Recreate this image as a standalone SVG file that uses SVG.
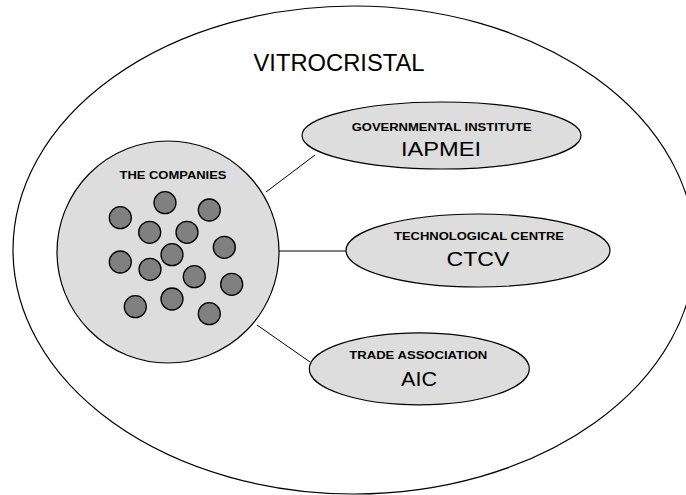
<svg xmlns="http://www.w3.org/2000/svg" width="686" height="495" viewBox="0 0 686 495">
<style>
.bg{fill:#ffffff;stroke:#000;stroke-width:1.2}
.node{fill:#dddddd;stroke:#000;stroke-width:1.2}
.co{fill:#808080;stroke:#000;stroke-width:1.3}
.con{stroke:#000;stroke-width:1;fill:none}
.sm{font-family:"Liberation Sans",Arial,sans-serif;font-weight:bold;font-size:11px;fill:#000;text-anchor:middle}
.lg{font-family:"Liberation Sans",Arial,sans-serif;font-size:21px;fill:#000;text-anchor:middle}
.title{font-family:"Liberation Sans",Arial,sans-serif;font-size:23.5px;fill:#000;text-anchor:middle}
</style>
<rect x="0" y="0" width="686" height="495" fill="#ffffff"/>
<g id="vitrocristal">
<ellipse class="bg" cx="354" cy="250" rx="341" ry="244"/>
<text class="title" x="339" y="71" textLength="171" lengthAdjust="spacingAndGlyphs">VITROCRISTAL</text>
</g>
<g id="connectors">
<line class="con" x1="266" y1="192" x2="315" y2="155"/>
<line class="con" x1="279" y1="251" x2="346" y2="251"/>
<line class="con" x1="257" y1="325" x2="310" y2="362"/>
</g>
<g id="companies">
<circle class="node" cx="168" cy="252" r="111"/>
<text class="sm" x="173" y="179" textLength="107" lengthAdjust="spacingAndGlyphs">THE COMPANIES</text>
<circle class="co" cx="120.3" cy="217.7" r="11"/>
<circle class="co" cx="165" cy="202.7" r="11"/>
<circle class="co" cx="209.3" cy="210" r="11"/>
<circle class="co" cx="149.7" cy="232.3" r="11"/>
<circle class="co" cx="187" cy="232.3" r="11"/>
<circle class="co" cx="224.3" cy="247.3" r="11"/>
<circle class="co" cx="172" cy="254.7" r="11"/>
<circle class="co" cx="120.3" cy="262" r="11"/>
<circle class="co" cx="150" cy="269.3" r="11"/>
<circle class="co" cx="194.3" cy="276.7" r="11"/>
<circle class="co" cx="231.7" cy="284.3" r="11"/>
<circle class="co" cx="135.3" cy="306.7" r="11"/>
<circle class="co" cx="172" cy="299" r="11"/>
<circle class="co" cx="209.3" cy="313.7" r="11"/>
</g>
<g id="iapmei">
<ellipse class="node" cx="441.5" cy="135.5" rx="139.5" ry="33.5"/>
<text class="sm" x="441.7" y="131" textLength="180" lengthAdjust="spacingAndGlyphs">GOVERNMENTAL INSTITUTE</text>
<text class="lg" x="441" y="156" textLength="80" lengthAdjust="spacingAndGlyphs">IAPMEI</text>
</g>
<g id="ctcv">
<ellipse class="node" cx="478" cy="250.5" rx="132" ry="36.5"/>
<text class="sm" x="479" y="240" textLength="170" lengthAdjust="spacingAndGlyphs">TECHNOLOGICAL CENTRE</text>
<text class="lg" x="478" y="266" textLength="63" lengthAdjust="spacingAndGlyphs">CTCV</text>
</g>
<g id="aic">
<ellipse class="node" cx="419.3" cy="368.8" rx="110" ry="36"/>
<text class="sm" x="418.3" y="359.3" textLength="138" lengthAdjust="spacingAndGlyphs">TRADE ASSOCIATION</text>
<text class="lg" x="419" y="386" textLength="36" lengthAdjust="spacingAndGlyphs">AIC</text>
</g>
</svg>
